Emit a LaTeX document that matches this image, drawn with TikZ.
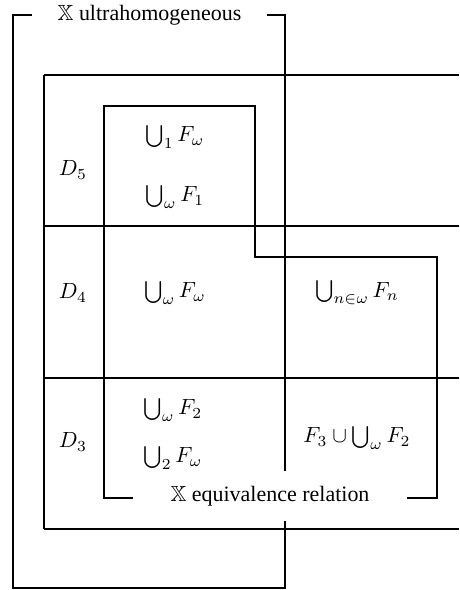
\documentclass[tikz,border=0pt]{standalone}
\usepackage{amsmath}
\usepackage{amssymb}
\usepackage{fontspec}
\setmainfont{Liberation Serif}
\usetikzlibrary{positioning}
\tikzset{
  frame/.style={line width=1.3pt},
  inbox/.style={line width=1.15pt},
  grid/.style={line width=1pt},
  cell/.style={inner sep=0pt, font=\normalsize},
  tag/.style={fill=white, inner sep=0pt}
}

\begin{document}
\begin{tikzpicture}[x=0.455pt, y=-0.455pt]
    \useasboundingbox (0,0) rectangle (459,590);
    % --- Setup Definitions ---
    \def\tl{44}               % table left edge
    \def\tr{459}              % table runs off the right side
    \def\ux{285}              % right side of the ultrahomogeneous box

    % --- Table of the rows D_5, D_4, D_3 ---
    \draw[grid] (\tl,75) -- (\tl,529);
    \foreach \y in {75,226,378,529}
        \draw[grid] (\tl,\y) -- (\tr,\y);

    % --- Ultrahomogeneous box ---
    \draw[frame] (13,15) rectangle (\ux,588);

    % --- Equivalence relation box (with the step) ---
    \draw[inbox] (104,106) -- (255,106) -- (255,257) -- (437,257)
                 -- (437,498) -- (104,498) -- cycle;

    % --- Box labels ---
    \node[tag, minimum width=107pt, minimum height=10pt] (ultra) at (149.5,15)
        {$\mathbb{X}$ ultrahomogeneous};
    \node[tag, minimum width=124.5pt, minimum height=22.5pt] (equiv) at (270,496)
        {$\mathbb{X}$ equivalence relation};

    % --- Row names ---
    \node[cell] (d5) at (73,170) {$D_5$};
    \node[cell] (d4) at (73,293) {$D_4$};
    \node[cell] (d3) at (73,442) {$D_3$};

    % --- Cells ---
    \node[cell] (u1w) at (175,137) {$\bigcup_1 F_\omega$};
    \node[cell] (uw1) at (175,197) {$\bigcup_\omega F_1$};
    \node[cell] (uww) at (175,293) {$\bigcup_\omega F_\omega$};
    \node[cell] (unn) at (357,293) {$\bigcup_{n\in\omega} F_n$};
    \node[cell] (uw2) at (173,410) {$\bigcup_\omega F_2$};
    \node[cell] (u2w) at (173,458) {$\bigcup_2 F_\omega$};
    \node[cell] (f3u) at (357,438) {$F_3\cup\bigcup_\omega F_2$};
\end{tikzpicture}
\end{document}
